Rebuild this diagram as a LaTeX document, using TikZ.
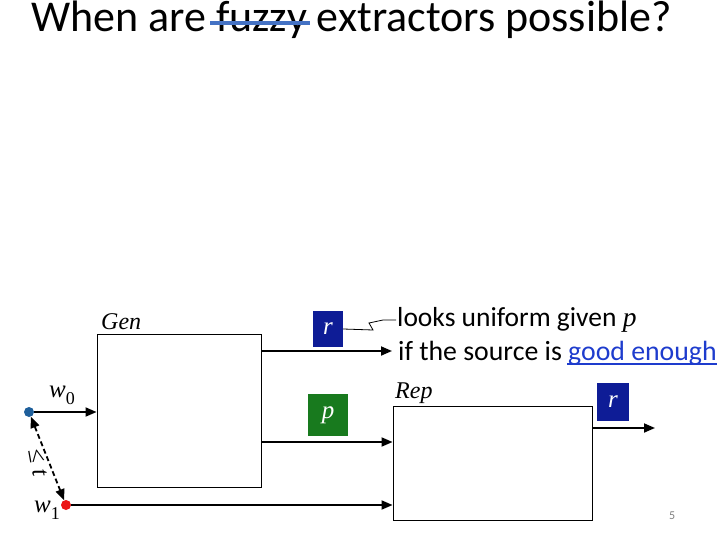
\documentclass[tikz,border=0pt]{standalone}
\usepackage{fontspec}
\setmainfont{Carlito}
\newfontfamily\tms{Liberation Serif}
\usetikzlibrary{arrows.meta}
\definecolor{rblue}{RGB}{14,28,150}
\definecolor{pgreen}{RGB}{24,122,30}
\definecolor{strike}{RGB}{68,114,196}
\definecolor{linkblue}{RGB}{30,60,205}
\definecolor{dotblue}{RGB}{30,95,155}
\definecolor{dotred}{RGB}{235,20,20}
\begin{document}
\begin{tikzpicture}[x=1pt,y=-1pt,
  blk/.style={draw=black,line width=0.9pt,fill=white,inner sep=0pt},
  vbox/.style={inner sep=0pt,text=white,font=\fontsize{25}{25}\tms\itshape},
  arr/.style={line width=1.8pt,-{Triangle[length=11pt,width=9pt]}},
  lbl/.style={inner sep=0pt,anchor=base west},
  dotn/.style={circle,inner sep=0pt,minimum size=10pt}]
\useasboundingbox (0,0) rectangle (720,540);
% title
\node[lbl] (title) at (31,32) {\fontsize{44}{44}\selectfont When are fuzzy extractors possible?};
\coordinate (s1) at (210,23);
\coordinate (s2) at (310,23);
\draw[strike,line width=3.5pt] (s1) -- (s2);
% boxes
\node[blk,minimum width=164pt,minimum height=153pt] (gen) at (179,410.5) {};
\node[blk,minimum width=199pt,minimum height=114pt] (rep) at (492.5,463) {};
\node[lbl] (genl) at (101,329) {\fontsize{24}{24}\tms\itshape Gen};
\node[lbl] (repl) at (395,398) {\fontsize{24}{24}\tms\itshape Rep};
% value boxes
\node[vbox,fill=rblue,minimum width=30pt,minimum height=36pt] (r1) at (328,329) {r};
\node[vbox,fill=pgreen,minimum width=40pt,minimum height=42pt] (p1) at (328,415) {p};
\node[vbox,fill=rblue,minimum width=32pt,minimum height=38pt] (r2) at (613,402) {r};
% points
\node[dotn,fill=dotblue] (w0) at (29,412) {};
\node[dotn,fill=dotred] (w1) at (66,505) {};
\node[lbl] (w0l) at (49,397) {\fontsize{25}{25}\tms\itshape w\raisebox{-7pt}{\fontsize{18}{18}\selectfont\upshape 0}};
\node[lbl] (w1l) at (34,512) {\fontsize{25}{25}\tms\itshape w\raisebox{-7pt}{\fontsize{18}{18}\selectfont\upshape 1}};
\node[inner sep=0pt,rotate=-80] (dist) at (38,463) {\fontsize{25}{25}\tms ≤ \itshape t};
% text
\node[lbl] (t1) at (397,326) {\fontsize{27.5}{27.5}\selectfont looks uniform given {\tms\itshape p}};
\node[lbl] (t2) at (398,360) {\fontsize{27.8}{27.8}\selectfont if the source is \textcolor{linkblue}{good enough}};
\coordinate (u1) at (567,364);
\coordinate (u2) at (717,364);
\draw[linkblue,line width=1.2pt] (u1) -- (u2);
% connectors
\coordinate (rend) at (392,351);
\coordinate (out) at (655,428);
\draw[arr] (gen.east |- rend) -- (rend);
\draw[arr] (gen.east |- 0,442) -- (rep.west |- 0,442);
\draw[arr] (w0) -- (gen.west |- w0);
\draw[arr] (w1) -- (rep.west |- w1);
\draw[arr] (rep.east |- out) -- (out);
\draw[line width=1.8pt,dash pattern=on 5pt off 3pt,{Triangle[length=11pt,width=9pt]}-{Triangle[length=11pt,width=9pt]}] (w0) -- (w1);
% squiggle
\coordinate (z1) at (373,330);
\coordinate (z2) at (369,323);
\coordinate (z3) at (383,320);
\coordinate (z4) at (396,320);
\draw[line width=0.8pt] (r1.east) -- (z1) -- (z2) -- (z3) -- (z4);
% page number
\node[lbl] (pg) at (669,519) {\fontsize{12}{12}\selectfont\color{gray}5};
\end{tikzpicture}
\end{document}
